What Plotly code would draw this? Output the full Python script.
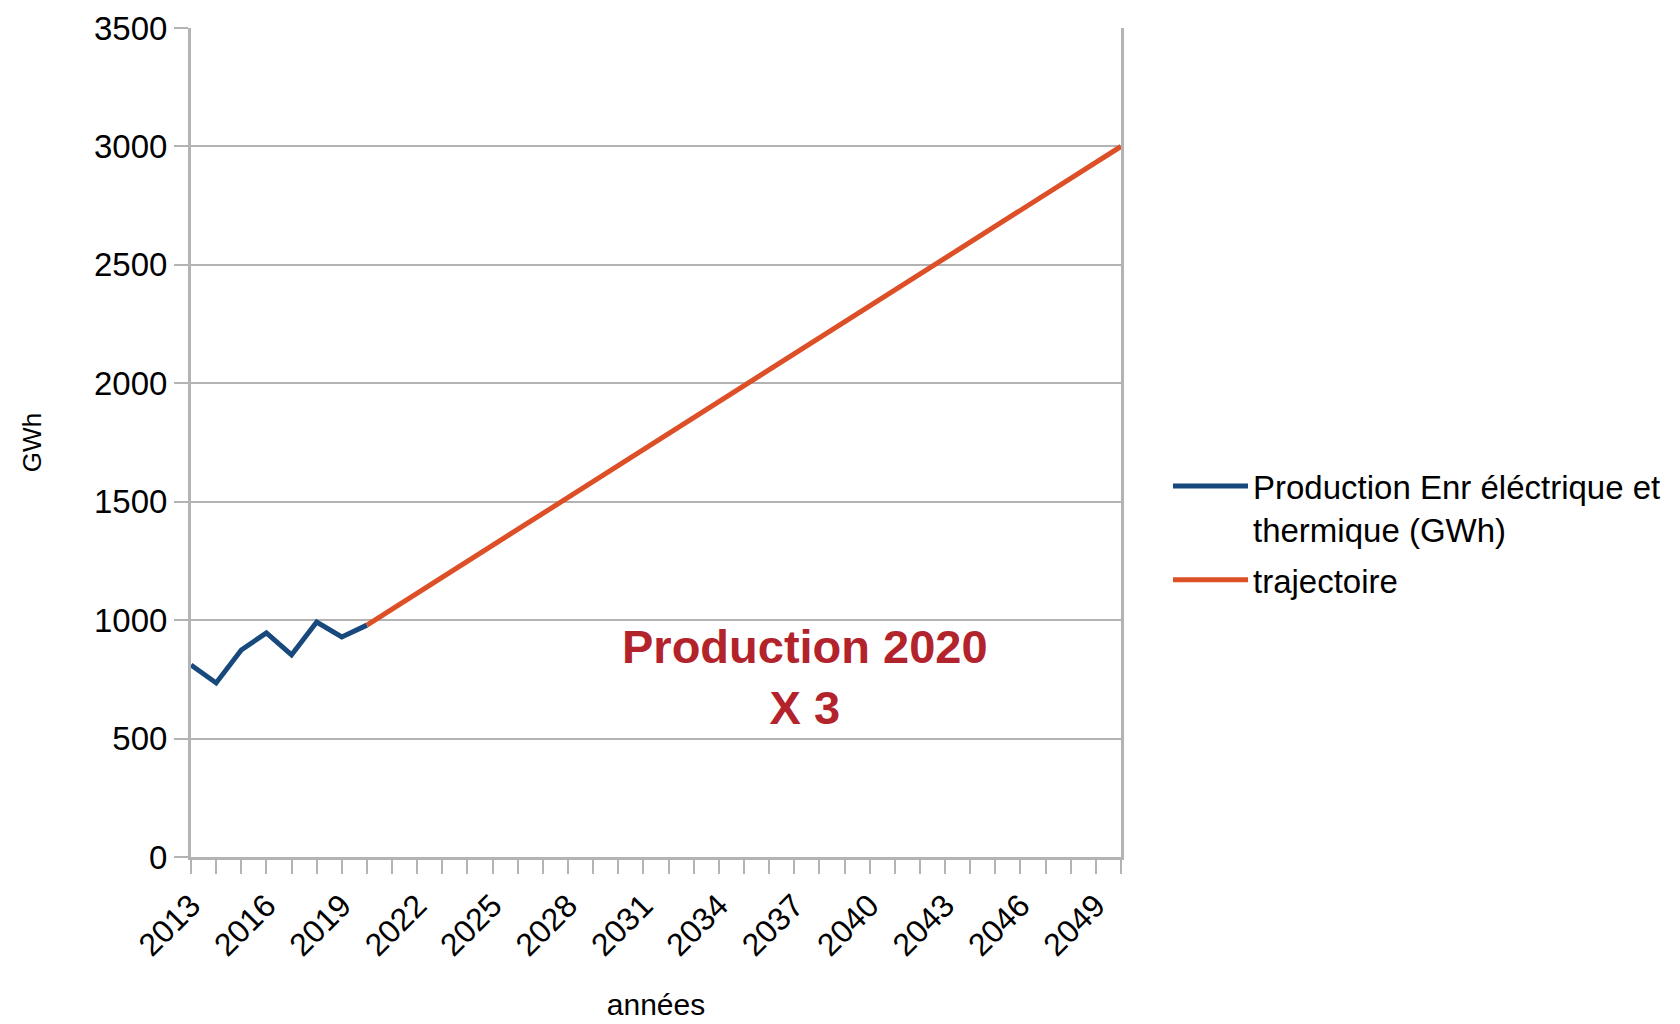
import plotly.graph_objects as go

# Data
years_hist = [2013, 2014, 2015, 2016, 2017, 2018, 2019, 2020]
production_gwh = [811, 735, 874, 946, 853, 992, 929, 979]

years_traj = [2020, 2050]
trajectoire_gwh = [979, 3000]

x_tick_labels = [2013, 2016, 2019, 2022, 2025, 2028, 2031, 2034, 2037, 2040, 2043, 2046, 2049]
y_tick_values = [0, 500, 1000, 1500, 2000, 2500, 3000, 3500]

BLUE = "#17497d"
ORANGE = "#dd4f27"
GRID = "#b3b3b3"
FONT = "Liberation Sans"

# the page body adds an 8px offset, so margins are reduced accordingly
L, T, PW, PH = 183, 20, 930, 829

fig = go.Figure()
fig.add_trace(go.Scatter(
    x=years_hist, y=production_gwh, mode="lines",
    name="Production Enr éléctrique et<br>thermique (GWh)",
    legendgroup="a",
    line=dict(color=BLUE, width=5),
))
fig.add_trace(go.Scatter(
    x=years_traj, y=trajectoire_gwh, mode="lines",
    name="trajectoire",
    legendgroup="b",
    line=dict(color=ORANGE, width=5),
))

fig.update_layout(
    width=1680, height=1024,
    paper_bgcolor="white", plot_bgcolor="white",
    margin=dict(l=L, r=1680 - L - PW, t=T, b=1024 - T - PH, autoexpand=False),
    font=dict(family=FONT, size=31, color="#000000"),
    showlegend=True,
    legend=dict(
        x=(1168 - 191) / 930, xanchor="left",
        y=(857 - 458) / 829, yanchor="top",
        font=dict(family=FONT, size=33, color="#000000"),
        valign="top",
        itemwidth=75,
        bgcolor="rgba(0,0,0,0)",
        tracegroupgap=5,
    ),
    annotations=[dict(
        text="<b>Production 2020<br>X 3</b>",
        xref="paper", yref="paper",
        x=(805 - 191) / 930, y=(857 - 677) / 829,
        xanchor="center", yanchor="middle",
        showarrow=False, align="center",
        font=dict(family=FONT, size=47, color="#b3232b"),
    )],
)

fig.update_xaxes(
    range=[2013, 2050],
    tickmode="array",
    tickvals=x_tick_labels,
    ticktext=[str(v) for v in x_tick_labels],
    tickangle=-45,
    ticks="outside", ticklen=14, tickwidth=2, tickcolor=GRID,
    minor=dict(dtick=1, tick0=2013, ticks="outside", ticklen=14, tickwidth=2, tickcolor=GRID, showgrid=False),
    showgrid=False, zeroline=False,
    showline=True, linecolor=GRID, linewidth=3,
    tickfont=dict(family=FONT, size=32, color="#000000"),
    title=dict(text="années", font=dict(family=FONT, size=30, color="#000000"), standoff=32),
    automargin=False,
)
fig.update_yaxes(
    range=[0, 3500],
    tickmode="array", tickvals=y_tick_values,
    ticks="outside", ticklen=14, tickwidth=2, tickcolor=GRID,
    showgrid=True, gridcolor=GRID, gridwidth=2,
    zeroline=False,
    showline=True, linecolor=GRID, linewidth=3, mirror=True,
    tickfont=dict(family=FONT, size=33, color="#000000"),
    title=dict(text="GWh", font=dict(family=FONT, size=26, color="#000000"), standoff=45),
    automargin=False,
)

fig.write_html("out.html")
